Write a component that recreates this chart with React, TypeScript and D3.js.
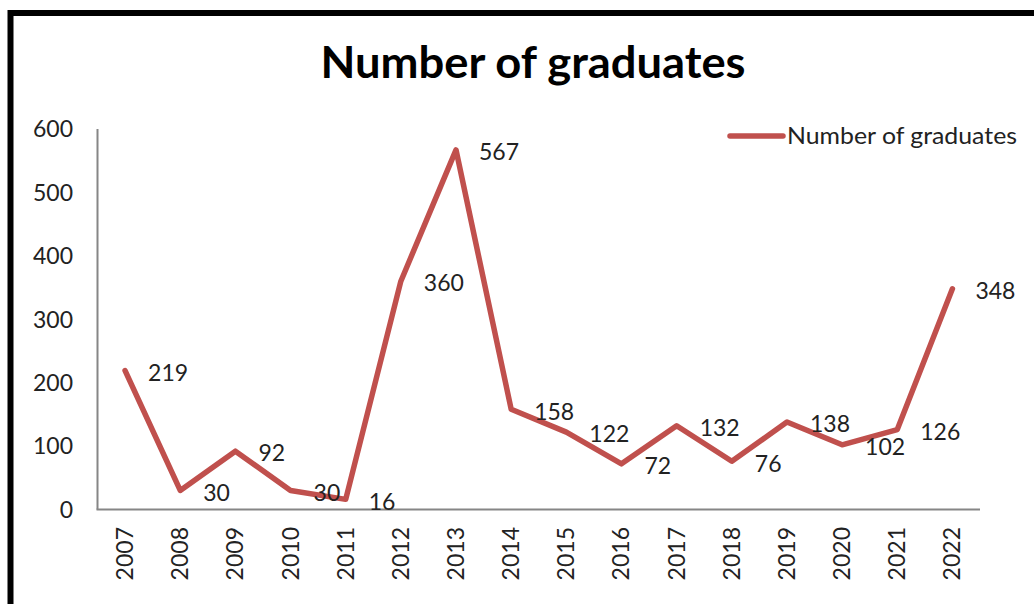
import React, { useEffect, useRef } from "react";
import * as d3 from "d3";

const years = ["2007","2008","2009","2010","2011","2012","2013","2014","2015","2016","2017","2018","2019","2020","2021","2022"];
const graduates = [219, 30, 92, 30, 16, 360, 567, 158, 122, 72, 132, 76, 138, 102, 126, 348];
const yTicks = [0, 100, 200, 300, 400, 500, 600];
const seriesName = "Number of graduates";
const chartTitle = "Number of graduates";

const W = 1034, H = 604;
const FONT = "Lato, 'Open Sans', sans-serif";
const FS = 23;

export default function App() {
  const ref = useRef<SVGSVGElement | null>(null);
  useEffect(() => {
    const svg = d3.select(ref.current);
    svg.selectAll("*").remove();

    const left = 97.5, right = 980, top = 129, bottom = 509.5;
    const x = d3.scaleBand<string>().domain(years).range([left, right]);
    const y = d3.scaleLinear().domain([0, 600]).range([bottom, top]);

    svg.append("rect").attr("width", W).attr("height", H).attr("fill", "#fff");
    // outer border (extends beyond view)
    svg.append("rect").attr("x", 10.5).attr("y", 13).attr("width", 1100).attr("height", 700)
      .attr("fill", "none").attr("stroke", "#000").attr("stroke-width", 6);

    // title
    svg.append("text").attr("x", 533).attr("y", 78).attr("text-anchor", "middle")
      .attr("font-family", FONT).attr("font-weight", 700).attr("font-size", 44)
      .attr("fill", "#000").attr("textLength", 425).attr("lengthAdjust", "spacingAndGlyphs")
      .text(chartTitle);

    // y tick labels
    svg.append("g").selectAll("text").data(yTicks).join("text")
      .attr("x", 73).attr("y", d => y(d)).attr("dy", "0.36em").attr("text-anchor", "end")
      .attr("font-family", FONT).attr("font-size", FS).attr("fill", "#222")
      .text(d => String(d));

    // axes lines
    svg.append("line").attr("x1", left).attr("x2", left).attr("y1", top).attr("y2", bottom)
      .attr("stroke", "#868686").attr("stroke-width", 2);
    svg.append("line").attr("x1", left - 1).attr("x2", right).attr("y1", bottom).attr("y2", bottom)
      .attr("stroke", "#868686").attr("stroke-width", 2);

    // x tick labels (rotated)
    svg.append("g").selectAll("text").data(years).join("text")
      .attr("transform", d => `translate(${(x(d) as number) + x.bandwidth() / 2 + 8},527) rotate(-90)`)
      .attr("text-anchor", "end")
      .attr("font-family", FONT).attr("font-size", FS).attr("fill", "#222")
      .text(d => d);

    // line
    const pts = years.map((yr, i) => [(x(yr) as number) + x.bandwidth() / 2, y(graduates[i])] as [number, number]);
    svg.append("path").attr("d", d3.line()(pts) as string)
      .attr("fill", "none").attr("stroke", "#C0504D").attr("stroke-width", 5.5)
      .attr("stroke-linejoin", "round").attr("stroke-linecap", "round");

    // data labels
    svg.append("g").selectAll("text").data(graduates).join("text")
      .attr("x", (d, i) => pts[i][0] + 23).attr("y", (d, i) => pts[i][1] + 2)
      .attr("dy", "0.36em")
      .attr("font-family", FONT).attr("font-size", FS).attr("fill", "#222")
      .text(d => String(d));

    // legend
    svg.append("line").attr("x1", 730).attr("x2", 783).attr("y1", 136).attr("y2", 136)
      .attr("stroke", "#C0504D").attr("stroke-width", 5.5).attr("stroke-linecap", "round");
    svg.append("text").attr("x", 787).attr("y", 136).attr("dy", "0.36em")
      .attr("font-family", FONT).attr("font-size", FS).attr("fill", "#222")
      .attr("textLength", 230).attr("lengthAdjust", "spacingAndGlyphs")
      .text(seriesName);
  }, []);

  return (
    <div style={{ position: "fixed", left: 0, top: 0 }}>
      <svg ref={ref} width={W} height={H} style={{ display: "block" }} />
    </div>
  );
}
